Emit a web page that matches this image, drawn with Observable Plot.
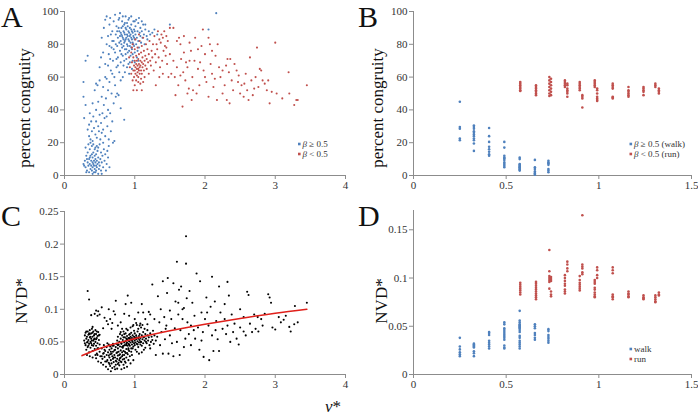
<!DOCTYPE html>
<html><head><meta charset="utf-8">
<script src="https://cdn.jsdelivr.net/npm/d3@7"></script>
<script src="https://cdn.jsdelivr.net/npm/@observablehq/plot@0.6"></script>
<style>
body{margin:0;background:#fff}
#wrap{position:relative;width:698px;height:416px;overflow:hidden;background:#fff}
.panel{position:absolute}
#overlay{position:absolute;left:0;top:0;font-family:"Liberation Serif","Times New Roman","DejaVu Serif",serif;fill:#111}
</style></head><body>
<div id="wrap">
<div class="panel" id="pA" style="left:0;top:0"></div>
<div class="panel" id="pB" style="left:349px;top:0"></div>
<div class="panel" id="pC" style="left:0;top:200px"></div>
<div class="panel" id="pD" style="left:349px;top:200px"></div>
<svg id="overlay" width="698" height="416">
  <text x="1" y="27" font-size="30">A</text>
  <text x="358" y="27" font-size="30">B</text>
  <text x="1" y="226" font-size="30">C</text>
  <text x="358" y="226" font-size="30">D</text>
  <text transform="translate(30,108) rotate(-90)" text-anchor="middle" font-size="17">percent congruity</text>
  <text transform="translate(382.5,108) rotate(-90)" text-anchor="middle" font-size="17">percent congruity</text>
  <text transform="translate(27,301) rotate(-90)" text-anchor="middle" font-size="17">NVD*</text>
  <text transform="translate(387,301) rotate(-90)" text-anchor="middle" font-size="17">NVD*</text>
  <text x="333" y="412" text-anchor="middle" font-size="17"><tspan font-style="italic">v</tspan>*</text>
  <g font-size="9" fill="#333">
    <rect x="298" y="142.7" width="2.6" height="2.6" fill="#4f81bd"/>
    <text x="302.5" y="147"><tspan font-style="italic">β</tspan> ≥ 0.5</text>
    <rect x="298" y="152.7" width="2.6" height="2.6" fill="#c0504d"/>
    <text x="302.5" y="157"><tspan font-style="italic">β</tspan> &lt; 0.5</text>
    <rect x="629.5" y="142.7" width="2.6" height="2.6" fill="#4f81bd"/>
    <text x="634" y="147"><tspan font-style="italic">β</tspan> ≥ 0.5 (walk)</text>
    <rect x="629.5" y="152.7" width="2.6" height="2.6" fill="#c0504d"/>
    <text x="634" y="157"><tspan font-style="italic">β</tspan> &lt; 0.5 (run)</text>
    <rect x="629.5" y="347.7" width="2.6" height="2.6" fill="#4f81bd"/>
    <text x="634" y="352">walk</text>
    <rect x="629.5" y="357.7" width="2.6" height="2.6" fill="#c0504d"/>
    <text x="634" y="362">run</text>
  </g>
</svg>
</div>
<script>
const BLUE = "#4f81bd", RED = "#c0504d", AXIS = "#8c8c8c";
const SERIF = "\"Liberation Serif\",\"Times New Roman\",\"DejaVu Serif\",serif";

// Tick values and labels
const ticksA_x = [0, 1, 2, 3, 4], labelsA_x = ["0", "1", "2", "3", "4"];
const ticksA_y = [0, 20, 40, 60, 80, 100], labelsA_y = ["0", "20", "40", "60", "80", "100"];
const ticksB_x = [0, 0.5, 1, 1.5], labelsB_x = ["0", "0.5", "1", "1.5"];
const ticksC_y = [0, 0.05, 0.1, 0.15, 0.2, 0.25], labelsC_y = ["0", "0.05", "0.1", "0.15", "0.2", "0.25"];
const ticksD_y = [0, 0.05, 0.1, 0.15], labelsD_y = ["0", "0.05", "0.1", "0.15"];

// Panel A: percent congruity vs v*, beta >= 0.5 (blue)
const aWalk = [
[0.27,7],[0.29,9],[0.30,5],[0.31,12],[0.32,3],[0.33,8],[0.33,14],[0.34,6],[0.35,10],[0.35,2],[0.36,16],[0.36,7],[0.37,4],[0.37,12],[0.38,9],[0.38,6],[0.39,18],[0.39,3],[0.40,8],[0.40,11],[0.40,5],[0.41,7],[0.41,14],[0.42,9],[0.42,2],[0.42,6],[0.43,12],[0.43,4],[0.44,8],[0.44,10],[0.44,17],[0.45,6],[0.45,3],[0.45,13],[0.46,9],[0.46,5],[0.47,7],[0.47,15],[0.48,1],[0.48,11],[0.49,4],[0.49,8],[0.50,19],[0.50,6],[0.51,10],[0.52,3],[0.52,14],[0.53,8],[0.54,12],[0.55,5],[0.56,16],[0.57,9],[0.58,13],[0.60,7],[0.62,11],[0.63,18],[0.64,5],[0.30,17],[0.34,19],[0.37,20],[0.41,19],[0.43,16],[0.46,18],[0.39,13],[0.36,11],[0.32,10],[0.28,6],[0.31,2],[0.53,1],[0.59,3],[0.61,15],[0.55,20],[0.48,17],[0.40,1],[0.44,2],
[0.28,35],[0.27,48],[0.27,57],[0.30,43],[0.33,28],[0.35,31],[0.35,24],[0.36,38],[0.37,22],[0.38,33],[0.39,27],[0.40,44],[0.40,21],[0.41,36],[0.42,29],[0.43,52],[0.44,25],[0.45,40],[0.45,33],[0.46,23],[0.47,55],[0.48,30],[0.48,45],[0.49,27],[0.50,37],[0.50,58],[0.51,22],[0.52,32],[0.53,48],[0.53,26],[0.54,38],[0.55,54],[0.55,28],[0.56,43],[0.57,35],[0.58,24],[0.58,60],[0.59,47],[0.60,36],[0.61,30],[0.62,52],[0.62,40],[0.63,22],[0.64,57],[0.65,38],[0.66,27],[0.67,50],[0.68,33],[0.68,62],[0.70,44],[0.72,55],[0.73,48],[0.75,50],[0.77,49],[0.80,41],[0.85,34],[0.71,21],[0.69,20],[0.60,59],
[0.30,70],[0.33,73],[0.45,56],[0.50,66],[0.52,72],[0.55,75],[0.53,84],[0.56,90],[0.58,95],[0.60,97],[0.58,68],[0.60,80],[0.62,85],[0.63,74],[0.64,92],[0.65,96],[0.66,64],[0.67,78],[0.68,88],[0.69,70],[0.70,94],[0.70,82],[0.71,60],[0.72,75],[0.72,98],[0.73,86],[0.74,66],[0.74,91],[0.75,79],[0.76,84],[0.76,72],[0.77,95],[0.78,88],[0.78,63],[0.79,76],[0.79,99],[0.80,82],[0.80,69],[0.81,90],[0.81,86],[0.82,78],[0.82,94],[0.83,73],[0.83,84],[0.84,88],[0.84,67],[0.85,81],[0.85,92],[0.86,77],[0.86,86],[0.87,97],[0.87,83],[0.88,71],[0.88,89],[0.89,80],[0.89,93],[0.90,85],[0.90,75],[0.91,88],[0.91,68],[0.92,82],[0.92,96],[0.93,79],[0.93,90],[0.94,86],[0.94,73],[0.95,84],[0.95,92],[0.96,77],[0.96,88],[0.97,81],[0.97,70],[0.98,94],[0.98,85],[0.99,79],[0.99,89],[1.00,83],[1.00,75],[1.01,91],[1.01,86],[1.02,80],[1.02,95],[1.03,84],[1.03,72],[1.04,88],[1.05,82],[1.05,93],[1.06,78],[1.07,87],[1.08,85],[1.08,90],[1.09,81],[1.10,88],[1.11,84],[1.12,92],[1.13,86],[1.14,80],[1.15,89],[1.17,85],[1.18,83],[1.20,88],[1.22,86],[1.25,87],[1.28,89],[1.32,86],[1.50,92],[2.05,89],[2.16,99],
[0.80,87],[0.81,80],[0.82,85],[0.83,91],[0.84,79],[0.85,87],[0.86,82],[0.87,90],[0.88,84],[0.89,86],[0.90,79],[0.90,91],[0.91,83],[0.92,87],[0.93,85],[0.94,81],[0.95,89],[0.96,83],[0.97,87],[0.98,80],[0.99,84],[1.00,88],[0.78,81],[0.77,90],[0.79,85],[0.88,77],[0.86,93],[0.92,76],[0.95,78],[0.84,83],[0.87,74],[0.91,95],[0.73,80],[0.75,88],[0.70,77],[0.74,71],[0.68,82],[0.66,86],[0.65,71],[0.62,67],[0.64,79],[0.76,67],[0.81,74],[0.85,70],[0.89,66],[0.93,69],[0.97,74],[1.04,76],[0.78,96],[0.83,97],[0.95,97],[1.00,94],[1.06,96],[1.10,94],[1.15,92],[1.05,70],[1.00,69],[0.96,65],[0.92,62],[0.86,63],[0.83,60],[0.80,58]
];
// Panel A: beta < 0.5 (red)
const aRun = [
[0.92,72],[0.93,66],[0.95,62],[0.95,75],[0.96,69],[0.97,58],[0.97,80],[0.98,64],[0.98,72],[0.99,67],[0.99,60],[1.00,70],[1.00,64],[1.00,77],[1.01,66],[1.01,62],[1.02,68],[1.02,73],[1.02,58],[1.03,65],[1.03,70],[1.03,61],[1.04,67],[1.04,63],[1.04,78],[1.05,65],[1.05,71],[1.05,60],[1.06,68],[1.06,64],[1.06,74],[1.07,66],[1.07,62],[1.07,82],[1.08,70],[1.08,67],[1.08,56],[1.09,64],[1.09,75],[1.10,69],[1.10,62],[1.10,79],[1.11,66],[1.11,72],[1.12,68],[1.12,84],[1.13,64],[1.13,76],[1.14,70],[1.14,60],[1.15,73],[1.15,67],[1.16,80],[1.17,65],[1.17,71],[1.18,77],[1.19,69],[1.20,74],[1.20,62],[1.21,82],[1.22,70],[1.23,67],[1.24,76],[1.25,72],[1.26,80],[1.27,64],[1.28,85],[1.29,74],[1.30,69],[1.31,80],[1.32,77],[1.33,88],[1.34,72],[1.35,83],[1.36,66],[1.37,81],[1.38,86],[1.39,70],[1.40,84],[1.41,76],[1.42,88],[1.43,79],[1.44,73],[1.45,85],[1.46,68],[1.47,82],[1.48,60],[1.50,74],[0.98,52],[1.03,52],[1.10,52],[1.00,55],[1.05,57],[0.96,78],[1.01,83],[1.06,86],[1.09,59],[1.12,57],
[1.52,62],[1.55,90],[1.57,60],[1.58,49],[1.60,66],[1.62,55],[1.63,84],[1.65,80],[1.66,71],[1.68,42],[1.69,63],[1.70,85],[1.72,58],[1.73,69],[1.75,50],[1.77,53],[1.78,81],[1.80,76],[1.81,46],[1.82,60],[1.85,70],[1.86,84],[1.88,50],[1.90,65],[1.92,55],[1.95,79],[1.97,89],[1.98,64],[2.00,74],[2.02,57],[2.05,48],[2.07,80],[2.08,68],[2.10,62],[2.12,54],[2.15,73],[2.17,46],[2.18,80],[2.20,66],[2.22,60],[2.25,50],[2.28,55],[2.30,67],[2.31,46],[2.32,71],[2.34,63],[2.36,71],[2.38,58],[2.40,52],[2.45,64],[2.47,57],[2.50,50],[2.52,55],[2.55,48],[2.58,62],[2.60,52],[2.62,46],[2.64,72],[2.66,58],[2.70,53],[2.72,60],[2.74,78],[2.76,54],[2.80,64],[2.82,58],[2.85,56],[2.88,52],[2.92,44],[2.95,51],[3.00,81],[3.02,50],[3.10,47],[3.19,63],[3.20,50],[3.27,43],[3.30,46],[3.32,46],[3.45,55],[1.55,70],[1.60,82],[1.65,61],[1.70,75],[1.75,66],[1.78,70],[1.83,52],[1.90,77],[1.93,69],[2.00,60],[2.05,84],[2.10,76],[2.14,59],[2.25,64],[2.35,44],[2.42,68],[2.48,61],[2.56,56],[2.68,49],[2.78,65],[2.90,58],[1.50,90],[1.45,78],[1.40,62],[1.35,60],[1.30,55]
];

// Panel B / D: columns of points at discrete speeds
const walkSpeeds = [0.25, 0.326, 0.408, 0.49, 0.573, 0.655, 0.728];
const runSpeeds = [0.576, 0.661, 0.733, 0.742, 0.817, 0.830, 0.897, 0.911, 0.978, 0.991, 1.075, 1.16, 1.241, 1.305, 1.324];
const bWalkY = [
[45,29.5,28.5,22.5,21.5],
[30.5,29.5,28.5,27,26,25,24,22.5,21.5,19.5,15],
[29,24,20.5,17.5,16,14.5,13,12],
[20.5,17,12,11,10.5,9.5,8,7,6,5],
[11,10,7,6.5,6,5.5,5,4.5,4,3.5,3],
[9.5,5,4,2.5,1.5,1,0.5],
[9,8,7.5,6.5,4,3,2]
];
const bRunY = [
[57,56,55,54,53,52,51.5],
[55,54,53,52,51,50,49],
[60,58,56,54,52,50,48.5],
[59,57,55,53,51,49],
[58,57,56,55,54],
[56,55,53,52,51,50,48],
[57,56,55,54,53,52],
[49,48,47,41.5],
[58,57,56,55,54],
[53,52,50,48,47,46,45.5],
[56,55,54,53,48,47.5,47],
[54,52,51,50,49,48],
[54,53,52,51,49],
[56,55,54],
[53,52,51,50]
];
const dWalkY = [
[0.038,0.029,0.026,0.023,0.021,0.019],
[0.032,0.031,0.030,0.029,0.028,0.024,0.022,0.019],
[0.044,0.043,0.041,0.035,0.033,0.031,0.029,0.027],
[0.054,0.052,0.048,0.046,0.044,0.042,0.040,0.038,0.036,0.030,0.028,0.027],
[0.066,0.056,0.054,0.052,0.051,0.050,0.049,0.048,0.046,0.044,0.040,0.038,0.035,0.033,0.031,0.029,0.027],
[0.052,0.050,0.048,0.043,0.041,0.038,0.036],
[0.047,0.045,0.041,0.039,0.037,0.035,0.033]
];
const dRunY = [
[0.095,0.093,0.091,0.089,0.087,0.085,0.083],
[0.096,0.094,0.092,0.090,0.088,0.086,0.084,0.082,0.080,0.078],
[0.129,0.107,0.102,0.100,0.098,0.096,0.089],
[0.101,0.099,0.097,0.086,0.083,0.081],
[0.103,0.100,0.097,0.094,0.092,0.088,0.086,0.084],
[0.117,0.114,0.110,0.107],
[0.102,0.098,0.095,0.093,0.091,0.089,0.087],
[0.165,0.114,0.112,0.110,0.106,0.104],
[0.098,0.096,0.094,0.090,0.088,0.085,0.083,0.081,0.080],
[0.111,0.108,0.103,0.100],
[0.111,0.108,0.105,0.083,0.081,0.080,0.078],
[0.086,0.084,0.083,0.081,0.080],
[0.082,0.080,0.079,0.078],
[0.082,0.080,0.078,0.076,0.075],
[0.085,0.083,0.082]
];

// Panel C: NVD* vs v* (all strides)
const cPts = [
[0.28,0.052],[0.29,0.060],[0.30,0.045],[0.30,0.064],[0.31,0.055],[0.31,0.038],[0.32,0.058],[0.32,0.049],[0.33,0.066],[0.33,0.042],[0.34,0.053],[0.34,0.061],[0.35,0.047],[0.35,0.034],[0.36,0.057],[0.36,0.068],[0.37,0.050],[0.37,0.041],[0.38,0.063],[0.38,0.055],[0.39,0.045],[0.39,0.070],[0.40,0.058],[0.40,0.036],[0.41,0.052],[0.41,0.066],[0.42,0.047],[0.42,0.060],[0.43,0.055],[0.43,0.039],[0.44,0.068],[0.44,0.050],[0.45,0.062],[0.45,0.044],[0.46,0.056],[0.46,0.032],[0.47,0.059],[0.47,0.048],[0.48,0.065],[0.48,0.040],[0.49,0.053],[0.50,0.046],[0.50,0.061],[0.29,0.048],[0.31,0.066],[0.33,0.050],[0.35,0.063],[0.37,0.058],[0.39,0.052],[0.41,0.044],[0.43,0.062],[0.45,0.054],[0.47,0.040],[0.49,0.060],[0.32,0.030],[0.36,0.028],[0.40,0.026],[0.44,0.030],[0.38,0.048],[0.34,0.044],[0.42,0.054],[0.46,0.066],[0.40,0.064],[0.36,0.062],
[0.45,0.025],[0.47,0.030],[0.48,0.020],[0.50,0.035],[0.51,0.028],[0.52,0.018],[0.53,0.040],[0.54,0.024],[0.55,0.032],[0.55,0.015],[0.56,0.045],[0.57,0.027],[0.58,0.020],[0.58,0.036],[0.59,0.012],[0.60,0.030],[0.60,0.042],[0.61,0.022],[0.62,0.008],[0.62,0.034],[0.63,0.018],[0.63,0.046],[0.64,0.026],[0.64,0.038],[0.65,0.013],[0.65,0.031],[0.66,0.022],[0.66,0.005],[0.67,0.040],[0.67,0.017],[0.68,0.028],[0.68,0.010],[0.69,0.035],[0.69,0.024],[0.70,0.019],[0.70,0.044],[0.71,0.030],[0.71,0.012],[0.72,0.026],[0.72,0.038],[0.73,0.015],[0.73,0.021],[0.74,0.033],[0.74,0.047],[0.75,0.024],[0.75,0.009],[0.76,0.029],[0.76,0.040],[0.77,0.018],[0.77,0.035],[0.78,0.022],[0.78,0.014],[0.79,0.031],[0.79,0.043],[0.80,0.026],[0.80,0.037],[0.81,0.019],[0.82,0.034],[0.82,0.028],[0.83,0.041],[0.83,0.023],[0.84,0.015],[0.84,0.036],[0.85,0.030],[0.86,0.045],[0.86,0.020],[0.87,0.033],[0.88,0.026],[0.88,0.039],[0.89,0.012],[0.90,0.031],[0.90,0.044],[0.91,0.022],[0.92,0.036],[0.93,0.028],[0.94,0.017],[0.95,0.040],[0.57,0.038],[0.61,0.048],[0.65,0.043],[0.69,0.047],[0.73,0.042],[0.77,0.046],[0.81,0.048],[0.85,0.024],[0.89,0.033],[0.63,0.029],[0.67,0.032],[0.71,0.037],[0.75,0.034],[0.79,0.025],[0.83,0.030],[0.87,0.018],[0.91,0.038],[0.70,0.026],[0.74,0.020],[0.78,0.030],[0.82,0.042],[0.86,0.035],[0.66,0.035],[0.60,0.020],[0.56,0.033],[0.53,0.028],[0.76,0.016],[0.72,0.008],[0.68,0.044],[0.64,0.016],[0.80,0.020],[0.84,0.044],[0.88,0.047],[0.92,0.046],[0.96,0.030],[0.98,0.022],[0.85,0.010],[0.81,0.008],
[0.75,0.052],[0.76,0.058],[0.78,0.050],[0.79,0.062],[0.80,0.055],[0.81,0.047],[0.82,0.060],[0.83,0.053],[0.84,0.066],[0.85,0.049],[0.86,0.057],[0.87,0.051],[0.87,0.063],[0.88,0.045],[0.88,0.055],[0.89,0.059],[0.89,0.049],[0.90,0.053],[0.90,0.068],[0.91,0.047],[0.91,0.056],[0.92,0.051],[0.92,0.061],[0.93,0.044],[0.93,0.055],[0.94,0.058],[0.94,0.049],[0.95,0.053],[0.95,0.064],[0.96,0.046],[0.96,0.056],[0.97,0.050],[0.97,0.060],[0.98,0.054],[0.98,0.043],[0.99,0.058],[0.99,0.048],[1.00,0.052],[1.00,0.063],[1.00,0.045],[1.01,0.056],[1.01,0.049],[1.02,0.054],[1.02,0.060],[1.03,0.047],[1.03,0.057],[1.04,0.051],[1.04,0.066],[1.05,0.055],[1.05,0.042],[1.06,0.059],[1.06,0.049],[1.07,0.053],[1.07,0.062],[1.08,0.046],[1.08,0.056],[1.09,0.050],[1.10,0.060],[1.10,0.044],[1.11,0.054],[1.12,0.065],[1.12,0.048],[1.13,0.057],[1.14,0.052],[1.15,0.062],[1.15,0.041],[1.16,0.055],[1.17,0.048],[1.18,0.060],[1.19,0.052],[1.20,0.057],[1.21,0.045],[1.22,0.063],[1.23,0.050],[1.24,0.058],[1.25,0.053],[1.27,0.047],[1.28,0.060],[1.30,0.052],[0.93,0.062],[0.97,0.040],[1.01,0.038],[1.05,0.070],[1.09,0.072],[1.13,0.038],[0.95,0.035],[0.99,0.067],[1.03,0.035],[1.07,0.075],[1.11,0.076],[0.85,0.062],[0.80,0.065],[0.76,0.045],[0.83,0.043],[0.91,0.040],[0.94,0.072],[0.98,0.076],[1.02,0.079],[1.06,0.032],[1.10,0.034],[1.14,0.070],[1.18,0.068],[1.22,0.040],[1.26,0.067],[0.88,0.070],[0.84,0.057],[0.96,0.052],[1.00,0.057],[1.04,0.046],[0.92,0.056],[1.08,0.050],[0.89,0.054],[1.12,0.058],[1.16,0.050],
[0.33,0.128],[0.35,0.115],[0.43,0.093],[0.45,0.098],[0.47,0.090],[0.48,0.097],[0.50,0.092],[0.53,0.103],[0.57,0.087],[0.60,0.082],[0.62,0.077],[0.65,0.085],[0.68,0.079],[0.70,0.097],[0.72,0.092],[0.73,0.113],[0.76,0.075],[0.80,0.080],[0.82,0.070],[0.85,0.093],[0.87,0.108],[0.90,0.121],[0.92,0.090],[0.95,0.110],[0.97,0.074],[1.00,0.085],[1.03,0.076],[1.05,0.095],[1.08,0.078],[1.10,0.108],[1.12,0.095],[1.15,0.085],[1.18,0.077],[1.20,0.096],[1.22,0.092],[1.25,0.138],[1.28,0.085],[0.40,0.073],[0.55,0.071],[0.67,0.070],[0.38,0.091],[0.63,0.100],
[1.30,0.030],[1.33,0.120],[1.35,0.080],[1.37,0.100],[1.38,0.065],[1.40,0.143],[1.40,0.032],[1.42,0.088],[1.43,0.054],[1.45,0.075],[1.46,0.125],[1.47,0.148],[1.48,0.032],[1.50,0.098],[1.50,0.060],[1.52,0.085],[1.55,0.028],[1.55,0.140],[1.57,0.071],[1.58,0.112],[1.60,0.173],[1.60,0.050],[1.62,0.092],[1.63,0.130],[1.64,0.030],[1.65,0.068],[1.66,0.135],[1.68,0.085],[1.70,0.102],[1.72,0.055],[1.73,0.212],[1.73,0.170],[1.74,0.117],[1.75,0.080],[1.77,0.062],[1.78,0.128],[1.80,0.075],[1.80,0.045],[1.82,0.110],[1.85,0.090],[1.86,0.055],[1.88,0.155],[1.90,0.072],[1.92,0.038],[1.93,0.143],[1.95,0.095],[1.97,0.065],[1.98,0.027],[2.00,0.085],[2.02,0.118],[2.05,0.075],[2.06,0.022],[2.08,0.104],[2.10,0.150],[2.10,0.060],[2.12,0.036],[2.14,0.112],[2.16,0.082],[2.18,0.054],[2.20,0.135],[2.20,0.036],[2.22,0.095],[2.25,0.070],[2.28,0.108],[2.30,0.062],[2.32,0.142],[2.32,0.075],[2.34,0.121],[2.36,0.050],[2.38,0.092],[2.40,0.065],[2.42,0.078],[2.45,0.055],[2.48,0.046],[2.50,0.100],[2.50,0.072],[2.55,0.088],[2.58,0.060],[2.60,0.127],[2.62,0.122],[2.64,0.078],[2.67,0.065],[2.70,0.092],[2.72,0.070],[2.76,0.066],[2.80,0.085],[2.82,0.075],[2.85,0.093],[2.90,0.123],[2.92,0.118],[2.94,0.110],[2.96,0.072],[3.00,0.069],[3.05,0.088],[3.08,0.080],[3.12,0.084],[3.20,0.073],[3.22,0.066],[3.27,0.077],[3.28,0.105],[3.32,0.080],[3.45,0.110],[1.32,0.058],[1.36,0.045],[1.44,0.070],[1.53,0.048],[1.62,0.110],[1.68,0.100],[1.70,0.042],[1.84,0.068],[1.95,0.052],[2.03,0.095],[2.15,0.068],[2.28,0.085],[2.55,0.066],[2.75,0.088],[3.15,0.090]
];
// Panel C fitted curve
const fitX = [0.25, 0.5, 1, 1.5, 2, 2.5, 3, 3.45];
const fitY = [0.029, 0.040, 0.055, 0.067, 0.077, 0.086, 0.094, 0.100];

const toObjs = pts => pts.map(([x, y]) => ({x, y}));
const fromCols = (xs, cols) => xs.flatMap((x, i) => cols[i].map(y => ({x, y})));
const fitLine = fitX.map((x, i) => ({x, y: fitY[i]}));

function panel(o) {
  const xm = new Map(o.xTicks.map((t, i) => [t, o.xLabels[i]]));
  const ym = new Map(o.yTicks.map((t, i) => [t, o.yLabels[i]]));
  return Plot.plot({
    width: 349, height: o.height,
    marginLeft: 64, marginRight: o.marginRight, marginTop: o.marginTop, marginBottom: o.marginBottom,
    style: {fontFamily: SERIF, fontSize: "11px", color: "#333", background: "transparent", overflow: "visible"},
    x: {domain: o.xDomain},
    y: {domain: o.yDomain},
    marks: [
      Plot.ruleY([o.yDomain[0]], {stroke: AXIS}),
      Plot.ruleX([o.xDomain[0]], {stroke: AXIS}),
      Plot.axisX(o.xTicks, {tickSize: 4, tickPadding: 2, tickFormat: d => xm.get(d), stroke: AXIS, color: "#333", label: null, fontFamily: SERIF}),
      Plot.axisY(o.yTicks, {tickSize: 4, tickPadding: 2, tickFormat: d => ym.get(d), stroke: AXIS, color: "#333", label: null, fontFamily: SERIF}),
      ...o.marks
    ]
  });
}

document.getElementById("pA").append(panel({
  height: 200, marginTop: 11, marginBottom: 25, marginRight: 4,
  xDomain: [0, 4], yDomain: [0, 100],
  xTicks: ticksA_x, xLabels: labelsA_x, yTicks: ticksA_y, yLabels: labelsA_y,
  marks: [
    Plot.dot(toObjs(aWalk), {x: "x", y: "y", r: 1.05, fill: BLUE}),
    Plot.dot(toObjs(aRun), {x: "x", y: "y", r: 1.05, fill: RED})
  ]
}));

document.getElementById("pB").append(panel({
  height: 200, marginTop: 11, marginBottom: 25, marginRight: 7,
  xDomain: [0, 1.5], yDomain: [0, 100],
  xTicks: ticksB_x, xLabels: labelsB_x, yTicks: ticksA_y, yLabels: labelsA_y,
  marks: [
    Plot.dot(fromCols(walkSpeeds, bWalkY), {x: "x", y: "y", r: 1.3, fill: BLUE}),
    Plot.dot(fromCols(runSpeeds, bRunY), {x: "x", y: "y", r: 1.3, fill: RED})
  ]
}));

document.getElementById("pC").append(panel({
  height: 216, marginTop: 11, marginBottom: 42, marginRight: 4,
  xDomain: [0, 4], yDomain: [0, 0.25],
  xTicks: ticksA_x, xLabels: labelsA_x, yTicks: ticksC_y, yLabels: labelsC_y,
  marks: [
    Plot.dot(toObjs(cPts), {x: "x", y: "y", r: 1.05, fill: "#000"}),
    Plot.line(fitLine, {x: "x", y: "y", stroke: "#e0201b", strokeWidth: 1.6, curve: "monotone-x"})
  ]
}));

document.getElementById("pD").append(panel({
  height: 216, marginTop: 10, marginBottom: 42, marginRight: 7,
  xDomain: [0, 1.5], yDomain: [0, 0.17],
  xTicks: ticksB_x, xLabels: labelsB_x, yTicks: ticksD_y, yLabels: labelsD_y,
  marks: [
    Plot.dot(fromCols(walkSpeeds, dWalkY), {x: "x", y: "y", r: 1.3, fill: BLUE}),
    Plot.dot(fromCols(runSpeeds, dRunY), {x: "x", y: "y", r: 1.3, fill: RED})
  ]
}));
</script>
</body></html>
